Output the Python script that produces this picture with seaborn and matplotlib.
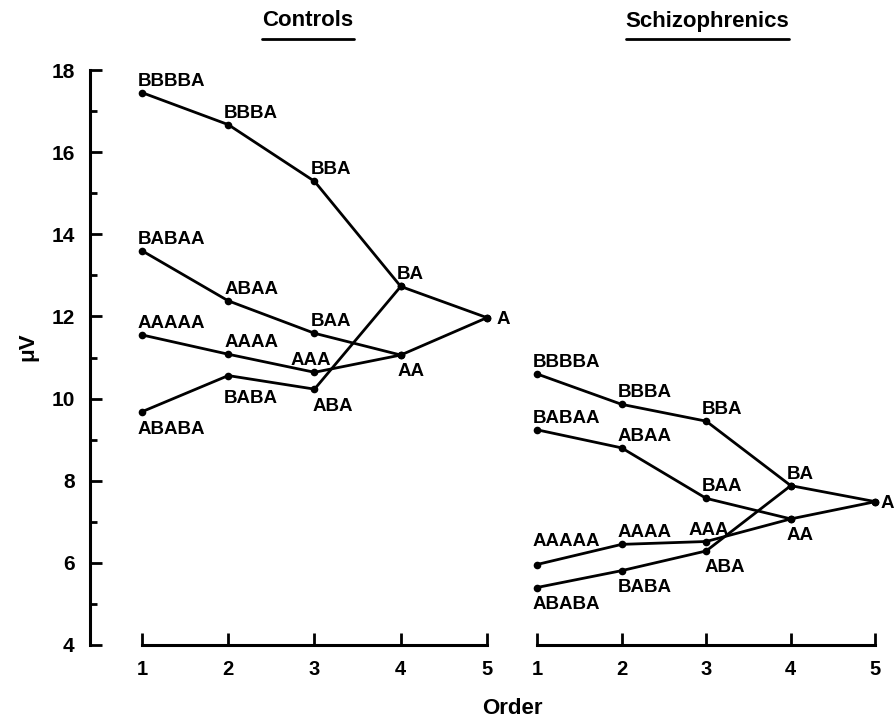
import numpy as np
import pandas as pd
import matplotlib
matplotlib.use('Agg')
import matplotlib.pyplot as plt
import seaborn as sns
from matplotlib.lines import Line2D

# sequence nodes, their order position and mean amplitude (uV) per group
nodes = ['BBBBA', 'BBBA', 'BBA', 'BA', 'A',
         'BABAA', 'ABAA', 'BAA', 'AA',
         'AAAAA', 'AAAA', 'AAA',
         'ABABA', 'BABA', 'ABA']
node_order = [1, 2, 3, 4, 5,
              1, 2, 3, 4,
              1, 2, 3,
              1, 2, 3]
controls_uv = [17.45, 16.67, 15.29, 12.73, 11.97,
               13.60, 12.38, 11.59, 11.06,
               11.55, 11.08, 10.64,
               9.68, 10.56, 10.23]
schizo_uv = [10.60, 9.86, 9.45, 7.88, 7.49,
             9.24, 8.80, 7.57, 7.07,
             5.96, 6.45, 6.52,
             5.40, 5.81, 6.29]

# the four branches drawn as lines
paths = [['BBBBA', 'BBBA', 'BBA', 'BA', 'A'],
         ['BABAA', 'ABAA', 'BAA', 'AA', 'A'],
         ['AAAAA', 'AAAA', 'AAA', 'AA'],
         ['ABABA', 'BABA', 'ABA', 'BA']]

groups = ['Controls', 'Schizophrenics']
x_ticks = [1, 2, 3, 4, 5]
y_ticks = [4, 6, 8, 10, 12, 14, 16, 18]

rows = []
for grp, vals in zip(groups, [controls_uv, schizo_uv]):
    lookup = dict(zip(nodes, zip(node_order, vals)))
    for pi, path in enumerate(paths):
        for n in path:
            rows.append({'group': grp, 'path': pi, 'node': n,
                         'order': lookup[n][0], 'uv': lookup[n][1]})
df = pd.DataFrame(rows)

sns.set_style('ticks')
plt.rcParams['font.family'] = ['Liberation Sans', 'DejaVu Sans']
plt.rcParams['font.weight'] = 'bold'
for k in ['text.color', 'axes.labelcolor', 'xtick.color', 'ytick.color',
          'axes.edgecolor']:
    plt.rcParams[k] = 'black'

# label offsets in pixels (dx, dy of baseline start)
up = (-4, 7)
place = {
    'Controls': {'A': (10, -6), 'AA': (-3, -21), 'AAA': (-24, 7),
                 'ABABA': (-4, -22), 'BABA': (-4, -27), 'ABA': (-2, -22)},
    'Schizophrenics': {'A': (5, -6), 'AA': (-4, -21), 'AAA': (-18, 7),
                       'AAAAA': (-4, 19), 'ABABA': (-4, -21),
                       'BABA': (-4, -21), 'ABA': (-2, -21)},
}

fig = plt.figure(figsize=(8.94, 7.19), dpi=100)
H = 719.0
bot = (H - 645) / H
hgt = 590 / H
ax1 = fig.add_axes([90 / 894, bot, 414 / 894, hgt])
ax2 = fig.add_axes([520 / 894, bot, 374 / 894, hgt])

for ax, grp in zip([ax1, ax2], groups):
    sub = df[df['group'] == grp]
    sns.lineplot(data=sub, x='order', y='uv', units='path', estimator=None,
                 color='black', lw=2, marker='o', markersize=5.5,
                 markeredgewidth=0, legend=False, ax=ax)
    seen = set()
    for _, r in sub.iterrows():
        if r['node'] in seen:
            continue
        seen.add(r['node'])
        off = place[grp].get(r['node'], up)
        ax.annotate(r['node'], (r['order'], r['uv']), xytext=off,
                    textcoords='offset pixels', ha='left', va='baseline',
                    fontsize=13.5, fontweight='bold', annotation_clip=False)
    ax.set_ylim(4, 4 + 590 / 41.07)
    ax.set_xticks(x_ticks)
    ax.set_xlabel('')
    ax.set_ylabel('')
    ax.spines['top'].set_visible(False)
    ax.spines['right'].set_visible(False)
    ax.spines['bottom'].set_bounds(1, 5)
    ax.spines['bottom'].set_linewidth(2.2)
    ax.tick_params(axis='x', direction='in', length=8.5, width=2,
                   labelsize=14.5, pad=11)
    ax.patch.set_alpha(0)

ax1.set_xlim(1 - 52 / 86.25, 1 - 52 / 86.25 + 414 / 86.25)
ax2.set_xlim(1 - 17 / 84.6, 1 + 357 / 84.6)

ax1.set_yticks(y_ticks)
ax1.set_yticks([5, 7, 9, 11, 13, 15, 17], minor=True)
ax1.spines['left'].set_bounds(4, 18)
ax1.spines['left'].set_linewidth(2.2)
ax1.tick_params(axis='y', which='major', direction='in', length=8.5, width=2,
                labelsize=15, pad=11)
ax1.tick_params(axis='y', which='minor', direction='in', length=5, width=2)

ax2.spines['left'].set_visible(False)
ax2.set_yticks([])

# panel titles with underline
titles = []
for txt, xc in zip(groups, [308, 707.5]):
    t = fig.text(xc / 894, (H - 21) / H, txt, ha='center', va='center',
                 fontsize=16, fontweight='bold')
    titles.append(t)

fig.text(512 / 894, (H - 708) / H, 'Order', ha='center', va='center',
         fontsize=16, fontweight='bold')
fig.text(28 / 894, (H - 347) / H, 'μV', ha='center', va='center',
         rotation=90, fontsize=16, fontweight='bold')

fig.canvas.draw()
rend = fig.canvas.get_renderer()
for t in titles:
    bb = t.get_window_extent(rend).transformed(fig.transFigure.inverted())
    yl = (H - 39) / H
    fig.add_artist(Line2D([bb.x0, bb.x1], [yl, yl], color='black', lw=2,
                          transform=fig.transFigure))

fig.savefig('out.png', dpi=100, facecolor='white')
